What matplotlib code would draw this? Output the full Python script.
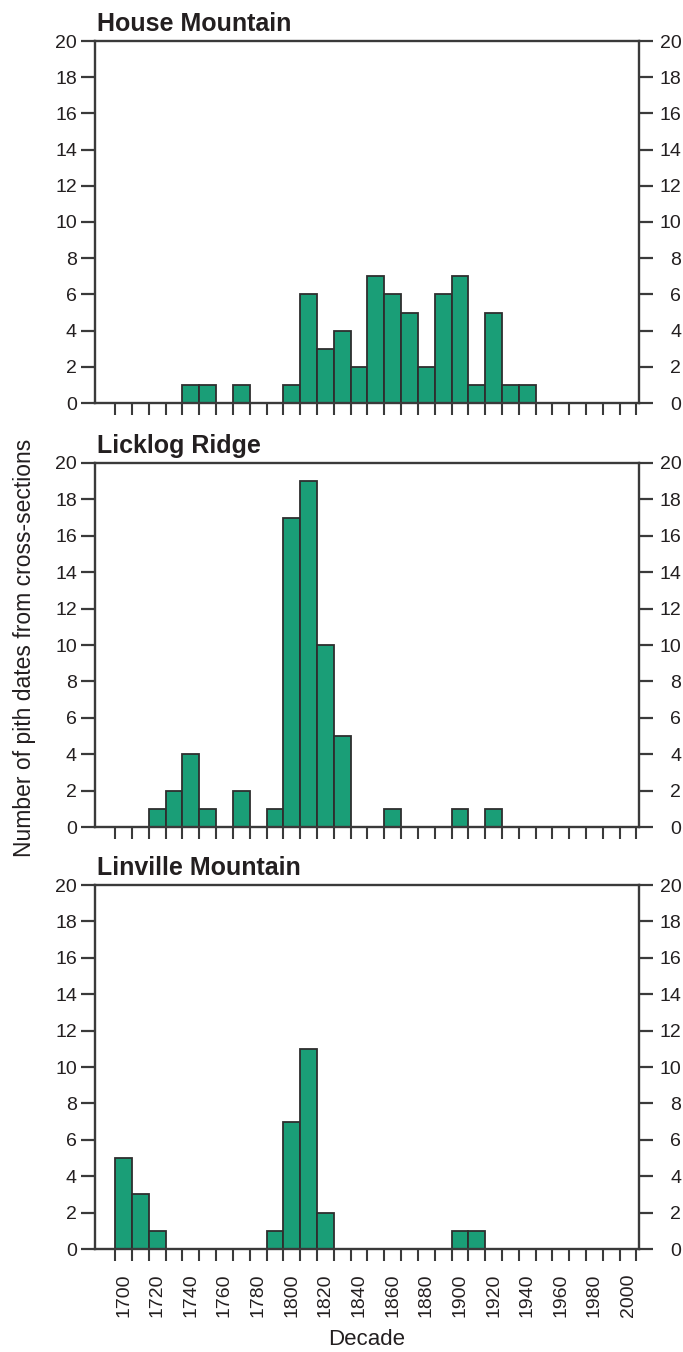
import numpy as np
import matplotlib
matplotlib.use("Agg")
from matplotlib import pyplot as plt
from matplotlib.ticker import FixedLocator, NullFormatter

plt.rcParams['font.family'] = ['Liberation Sans', 'DejaVu Sans']

decades = list(range(1700, 2001, 10))

house = [0, 0, 0, 0, 1, 1, 0, 1, 0, 0,
         1, 6, 3, 4, 2, 7, 6, 5, 2, 6,
         7, 1, 5, 1, 1, 0, 0, 0, 0, 0, 0]
licklog = [0, 0, 1, 2, 4, 1, 0, 2, 0, 1,
           17, 19, 10, 5, 0, 0, 1, 0, 0, 0,
           1, 0, 1, 0, 0, 0, 0, 0, 0, 0, 0]
linville = [5, 3, 1, 0, 0, 0, 0, 0, 0, 1,
            7, 11, 2, 0, 0, 0, 0, 0, 0, 0,
            1, 1, 0, 0, 0, 0, 0, 0, 0, 0, 0]

titles = ["House Mountain", "Licklog Ridge", "Linville Mountain"]
series = [house, licklog, linville]
label_decades = list(range(1700, 2001, 20))
yticks = list(range(0, 21, 2))

bar_color = "#1a9e77"
edge_color = "#2e2e2e"
axis_color = "#3a3a3a"
ink = "#231f20"

W, H = 683, 1352
fig = plt.figure(figsize=(W / 100, H / 100), dpi=100)

left = 95 / W
width = (639 - 95) / W
tops = [41, 463, 885]
bottoms = [403, 827, 1249]

for k in range(3):
    h = (bottoms[k] - tops[k]) / H
    ax = fig.add_axes([left, 1 - bottoms[k] / H, width, h])
    vals = np.array(series[k])
    ax.bar(decades, vals, width=10, color=bar_color, edgecolor=edge_color,
           linewidth=1.3, zorder=2)
    ax.set_xlim(1683, 2006.5)
    ax.set_ylim(0, 20)
    ax.set_yticks(yticks)
    edges = [d - 5 for d in decades] + [decades[-1] + 5]
    ax.xaxis.set_major_locator(FixedLocator(edges))
    ax.xaxis.set_major_formatter(NullFormatter())
    ax.tick_params(axis='x', which='major', direction='out', length=8.5,
                   width=1.5, color=axis_color)
    ax.tick_params(axis='y', which='major', direction='out', length=10,
                   width=1.6, color=axis_color, labelsize=14,
                   labelcolor=ink, pad=3)
    for s in ax.spines.values():
        s.set_color(axis_color)
        s.set_linewidth(1.7)

    # right-hand scale, labels right-aligned as in the original
    axr = ax.twinx()
    axr.set_ylim(0, 20)
    axr.set_yticks(yticks)
    axr.tick_params(axis='y', direction='out', length=10, width=1.6,
                    color=axis_color, labelsize=14, labelcolor=ink, pad=20.5)
    for lab in axr.get_yticklabels():
        lab.set_horizontalalignment('right')
    for s in axr.spines.values():
        s.set_visible(False)

    ax.text(0.004, 1 + 10 / (bottoms[k] - tops[k]), titles[k],
            transform=ax.transAxes, fontsize=18, fontweight='bold',
            color=ink, ha='left', va='baseline')
    if k == 2:
        ax.xaxis.set_minor_locator(FixedLocator(label_decades))
        ax.set_xticklabels([str(d) for d in label_decades], minor=True,
                           rotation=90)
        ax.tick_params(axis='x', which='minor', length=0, labelsize=14,
                       labelcolor=ink, pad=17.5)
        ax.set_xlabel("Decade", fontsize=16, color=ink, labelpad=9)

fig.text(25 / W, 1 - 648 / H, "Number of pith dates from cross-sections",
         rotation=90, ha='center', va='center', fontsize=16.5, color=ink)

fig.savefig("out.png", dpi=100)
